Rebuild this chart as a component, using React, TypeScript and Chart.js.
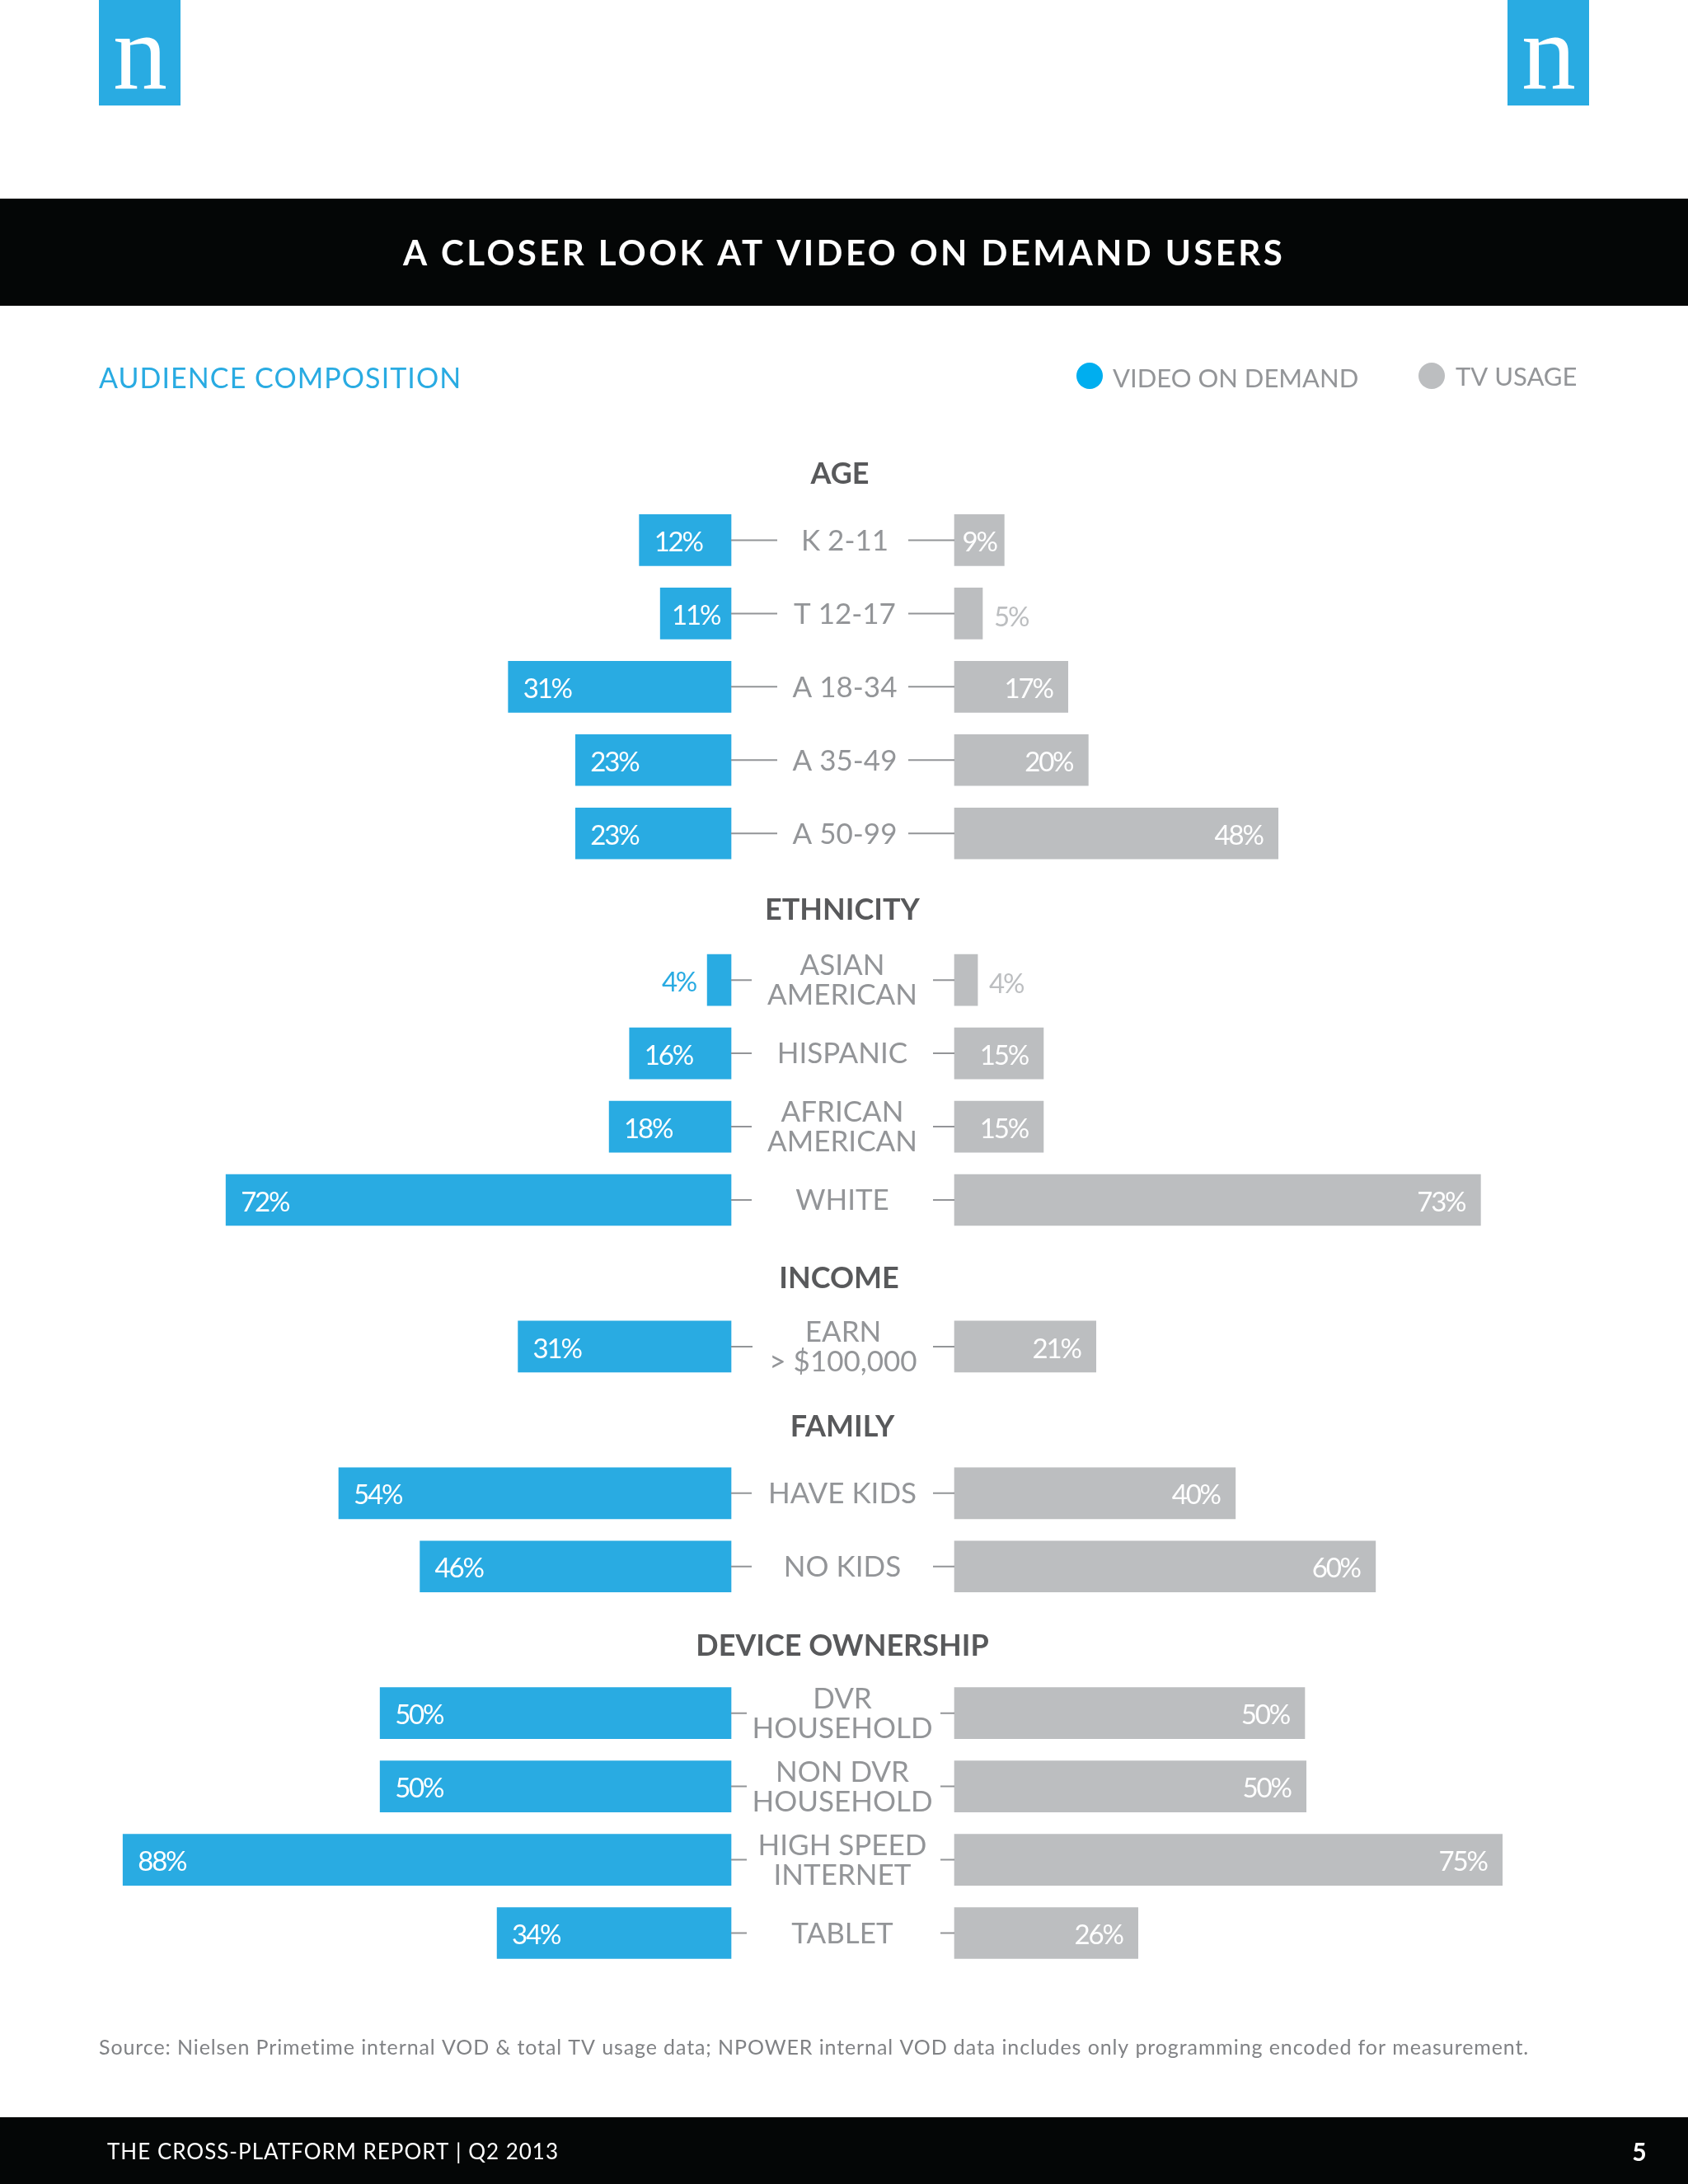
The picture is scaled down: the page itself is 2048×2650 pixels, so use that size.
import React, { useEffect, useRef } from 'react';
import { Chart, registerables } from 'chart.js';

Chart.register(...registerables);

const BLUE = '#29ABE2';
const GRAY = '#BCBEC0';
const TEXT_GRAY = '#939598';
const DARK = '#58595B';
const FONT = 'Lato, sans-serif';

// one slot per line of the chart, section titles have no bars
const categories = [
    'AGE', 'K 2-11', 'T 12-17', 'A 18-34', 'A 35-49', 'A 50-99',
    'ETHNICITY', 'ASIAN\nAMERICAN', 'HISPANIC', 'AFRICAN\nAMERICAN', 'WHITE',
    'INCOME', 'EARN\n> $100,000',
    'FAMILY', 'HAVE KIDS', 'NO KIDS',
    'DEVICE OWNERSHIP', 'DVR\nHOUSEHOLD', 'NON DVR\nHOUSEHOLD', 'HIGH SPEED\nINTERNET', 'TABLET',
];

// printed percentages
const vodLabels = [
    null, 12, 11, 31, 23, 23,
    null, 4, 16, 18, 72,
    null, 31,
    null, 54, 46,
    null, 50, 50, 88, 34,
];
const tvLabels = [
    null, 9, 5, 17, 20, 48,
    null, 4, 15, 15, 73,
    null, 21,
    null, 40, 60,
    null, 50, 50, 75, 26,
];

// bar lengths as drawn in the picture, they don't quite follow the printed numbers
const vodValues = [
    null, 13.1, 10.1, 31.8, 22.2, 22.2,
    null, 3.4, 14.5, 17.4, 72.1,
    null, 30.4,
    null, 56, 44.4,
    null, 50.1, 50.1, 86.8, 33.4,
];
const tvValues = [
    null, 7.1, 4, 16.2, 19.1, 46.2,
    null, 3.3, 12.7, 12.7, 75.1,
    null, 20.2,
    null, 40.1, 60.1,
    null, 50, 50.2, 78.2, 26.2,
];

const WIDTH = 2048;
const HEIGHT = 2650;
const ZERO_LEFT = 887;
const ZERO_RIGHT = 1158;
const PX_PER_UNIT = 8.5;
const CENTER_X = 1022;

// per section: leader line lengths, title offset from the slot centre, row text shift
const sectionStyle: Record<string, any> = {
    AGE: { leaders: [56, 56], titleDx: -3, titleDy: 9, rowDx: 3 },
    ETHNICITY: { leaders: [25, 26], titleDx: 0, titleDy: 4, rowDx: 0 },
    INCOME: { leaders: [26, 26], titleDx: -4, titleDy: 6, rowDx: 1 },
    FAMILY: { leaders: [25, 26], titleDx: 0, titleDy: 9, rowDx: 0 },
    'DEVICE OWNERSHIP': { leaders: [19, 17], titleDx: 0, titleDy: 8, rowDx: 0 },
};

const text = (ctx: any, str: string, x: number, y: number, font: string, color: string, align = 'left', spacing = '0px') => {
    ctx.font = font;
    ctx.fillStyle = color;
    ctx.textAlign = align;
    ctx.textBaseline = 'middle';
    ctx.letterSpacing = spacing;
    ctx.fillText(str, x, y);
    ctx.letterSpacing = '0px';
};

const pagePlugin = {
    id: 'page',
    beforeDraw(chart: any) {
        const ctx = chart.ctx;
        ctx.save();
        ctx.fillStyle = '#FFFFFF';
        ctx.fillRect(0, 0, WIDTH, HEIGHT);

        // logos
        [120, 1829].forEach((x) => {
            ctx.fillStyle = BLUE;
            ctx.fillRect(x, 0, 99, 128);
            ctx.font = '132px "Liberation Serif", serif';
            ctx.fillStyle = '#FFFFFF';
            ctx.textAlign = 'center';
            ctx.textBaseline = 'alphabetic';
            ctx.fillText('n', x + 50, 107);
        });

        // title and footer bands
        ctx.fillStyle = '#040606';
        ctx.fillRect(0, 241, WIDTH, 130);
        ctx.fillRect(0, 2569, WIDTH, 81);
        text(ctx, 'A CLOSER LOOK AT VIDEO ON DEMAND USERS', 1024, 308, `bold 42px ${FONT}`, '#FFFFFF', 'center', '3.4px');
        text(ctx, 'THE CROSS-PLATFORM REPORT | Q2 2013', 130, 2612, `26px ${FONT}`, '#FFFFFF', 'left', '1px');
        text(ctx, '5', 1989, 2612, `bold 30px ${FONT}`, '#FFFFFF', 'center');

        text(ctx, 'AUDIENCE COMPOSITION', 120, 460, `34px ${FONT}`, BLUE, 'left', '1.07px');

        // legend
        ctx.fillStyle = '#00AEEF';
        ctx.beginPath();
        ctx.arc(1322, 456, 16, 0, Math.PI * 2);
        ctx.fill();
        ctx.fillStyle = GRAY;
        ctx.beginPath();
        ctx.arc(1737, 456, 16, 0, Math.PI * 2);
        ctx.fill();
        text(ctx, 'VIDEO ON DEMAND', 1350, 460, `31px ${FONT}`, TEXT_GRAY);
        text(ctx, 'TV USAGE', 1766, 458, `31px ${FONT}`, TEXT_GRAY);

        text(ctx, 'Source: Nielsen Primetime internal VOD & total TV usage data; NPOWER internal VOD data includes only programming encoded for measurement.',
            120, 2485, `25px ${FONT}`, '#808285', 'left', '0.9px');
        ctx.restore();
    },
    afterDatasetsDraw(chart: any) {
        const ctx = chart.ctx;
        const yScale = chart.scales.y;
        const vodBars = chart.getDatasetMeta(0).data;
        const tvBars = chart.getDatasetMeta(1).data;
        let style = sectionStyle.AGE;
        ctx.save();
        categories.forEach((cat, i) => {
            const y = yScale.getPixelForValue(i);
            if (sectionStyle[cat]) {
                style = sectionStyle[cat];
                text(ctx, cat, CENTER_X + style.titleDx, y + style.titleDy, `bold 36px ${FONT}`, DARK, 'center');
                return;
            }
            // leader lines
            const [leftLen, rightLen] = style.leaders;
            ctx.strokeStyle = TEXT_GRAY;
            ctx.lineWidth = 2;
            ctx.beginPath();
            ctx.moveTo(ZERO_LEFT, y);
            ctx.lineTo(ZERO_LEFT + leftLen, y);
            ctx.moveTo(ZERO_RIGHT - rightLen, y);
            ctx.lineTo(ZERO_RIGHT, y);
            ctx.stroke();

            // category text
            const lines = cat.split('\n');
            lines.forEach((line, k) => {
                const ly = y + 1 + (k - (lines.length - 1) / 2) * 36;
                text(ctx, line, CENTER_X + style.rowDx, ly, `35px ${FONT}`, TEXT_GRAY, 'center');
            });

            // value labels, inside the bar unless it is too short
            const labelFont = `33px ${FONT}`;
            const labelSpacing = '-2.2px';
            const labelY = y + 3;
            const vodStr = `${vodLabels[i]}%`;
            const tvStr = `${tvLabels[i]}%`;
            ctx.font = labelFont;
            ctx.letterSpacing = labelSpacing;
            const vodW = vodBars[i].base - vodBars[i].x;
            const tvW = tvBars[i].x - tvBars[i].base;
            const vodTw = ctx.measureText(vodStr).width;
            const tvTw = ctx.measureText(tvStr).width;
            ctx.letterSpacing = '0px';
            if (vodW < 40) {
                text(ctx, vodStr, vodBars[i].x - 14, labelY, labelFont, BLUE, 'right', labelSpacing);
            } else {
                const pad = Math.min(18, (vodW - vodTw) / 2);
                text(ctx, vodStr, vodBars[i].x + pad, labelY, labelFont, '#FFFFFF', 'left', labelSpacing);
            }
            if (tvW < 40) {
                text(ctx, tvStr, tvBars[i].x + 14, labelY + 2, labelFont, GRAY, 'left', labelSpacing);
            } else {
                const pad = Math.min(19, (tvW - tvTw) / 2);
                text(ctx, tvStr, tvBars[i].x - pad, labelY, labelFont, '#FFFFFF', 'right', labelSpacing);
            }
        });
        ctx.restore();
    },
};

const App: React.FC = () => {
    const chartRef = useRef<HTMLCanvasElement>(null);
    const chartInstanceRef = useRef<Chart | null>(null);

    useEffect(() => {
        const canvas = chartRef.current;
        if (!canvas) return;

        chartInstanceRef.current = new Chart(canvas, {
            type: 'bar',
            data: {
                labels: categories,
                datasets: [
                    {
                        label: 'VIDEO ON DEMAND',
                        data: vodValues,
                        backgroundColor: BLUE,
                        xAxisID: 'xLeft',
                        grouped: false,
                        barThickness: 62,
                    },
                    {
                        label: 'TV USAGE',
                        data: tvValues,
                        backgroundColor: GRAY,
                        xAxisID: 'xRight',
                        grouped: false,
                        barThickness: 62,
                    },
                ] as any,
            },
            options: {
                indexAxis: 'y',
                animation: false,
                responsive: false,
                devicePixelRatio: 1,
                layout: { padding: { top: 522, bottom: 260, left: 0, right: 0 } },
                plugins: { legend: { display: false }, tooltip: { enabled: false } },
                scales: {
                    y: { display: false, offset: true, grid: { display: false } },
                    // both axes run over the full width, only their zeros differ
                    xLeft: {
                        display: false,
                        reverse: true,
                        min: -(WIDTH - ZERO_LEFT) / PX_PER_UNIT,
                        max: ZERO_LEFT / PX_PER_UNIT,
                    },
                    xRight: {
                        display: false,
                        min: -ZERO_RIGHT / PX_PER_UNIT,
                        max: (WIDTH - ZERO_RIGHT) / PX_PER_UNIT,
                    },
                },
            } as any,
            plugins: [pagePlugin],
        });

        return () => {
            if (chartInstanceRef.current) {
                chartInstanceRef.current.destroy();
            }
        };
    }, []);

    return (
        <canvas
            ref={chartRef}
            width={WIDTH}
            height={HEIGHT}
            style={{ position: 'absolute', left: 0, top: 0, width: WIDTH, height: HEIGHT, display: 'block' }}
        />
    );
};

export default App;
